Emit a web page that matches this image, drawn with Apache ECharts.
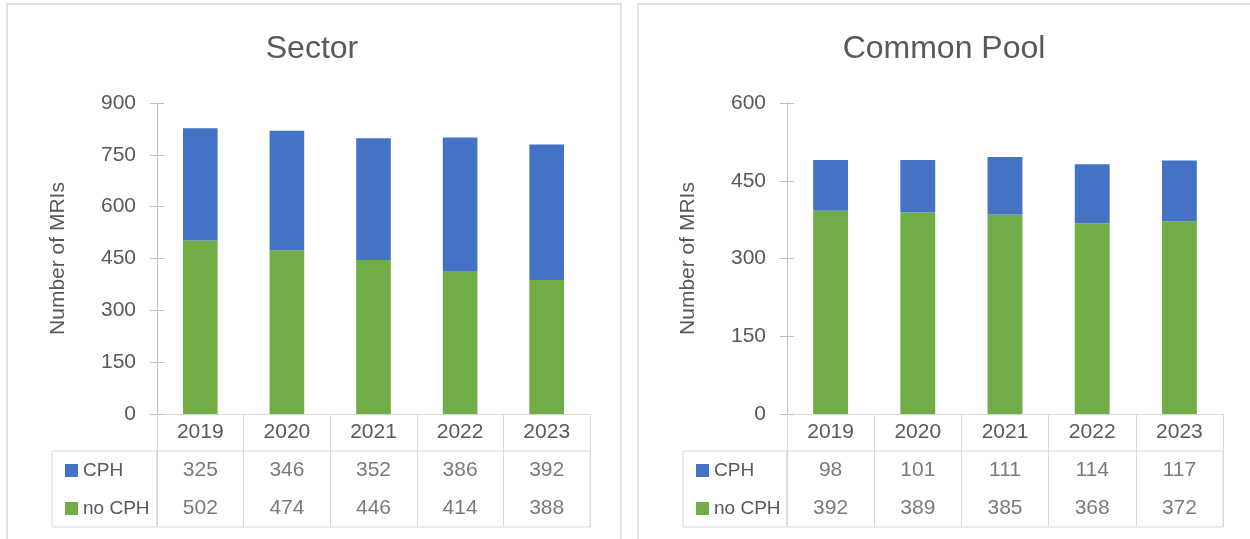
<!DOCTYPE html>
<html>
<head>
<meta charset="utf-8">
<script src="https://cdn.jsdelivr.net/npm/echarts@6/dist/echarts.min.js"></script>
<style>
  html, body { margin: 0; padding: 0; background: #fff; }
  #chart { width: 1250px; height: 539px; }
</style>
</head>
<body>
<div id="chart"></div>
<script>
// data
const years = ['2019', '2020', '2021', '2022', '2023'];
const rowNames = ['CPH', 'no CPH'];
const sectorCph = [325, 346, 352, 386, 392];
const sectorNoCph = [502, 474, 446, 414, 388];
const poolCph = [98, 101, 111, 114, 117];
const poolNoCph = [392, 389, 385, 368, 372];

const FONT = 'Liberation Sans, Arial, sans-serif';
const TEXT = '#595959';
const LINE = '#d9d9d9';
const BLUE = '#4472C4';
const GREEN = '#70AD47';

const chart = echarts.init(document.getElementById('chart'));

// one panel: chart grid, table grid, legend-column grid
const panels = [
  { title: 'Sector', cph: sectorCph, noCph: sectorNoCph, max: 900,
    left: 157, width: 433, keyLeft: 52, titleX: 307 },
  { title: 'Common Pool', cph: poolCph, noCph: poolNoCph, max: 600,
    left: 787, width: 436, keyLeft: 683, titleX: 939 }
];

const grid = [], xAxis = [], yAxis = [], series = [], title = [], legend = [];

panels.forEach((p, k) => {
  const g = k * 3;
  grid.push(
    { left: p.left, top: 103, width: p.width, height: 311 },
    { left: p.left, top: 451, width: p.width, height: 76, show: true,
      borderColor: LINE, borderWidth: 1, backgroundColor: 'transparent' },
    { left: p.keyLeft, top: 451, width: p.left - p.keyLeft, height: 76, show: true,
      borderColor: LINE, borderWidth: 1, backgroundColor: 'transparent' }
  );

  xAxis.push(
    { gridIndex: g, type: 'category', data: years,
      axisLine: { lineStyle: { color: LINE, width: 1 } },
      axisTick: { show: true, length: 37, interval: 0, lineStyle: { color: LINE } },
      axisLabel: { color: TEXT, fontSize: 21, fontFamily: FONT, margin: 8, interval: 0 } },
    { gridIndex: g + 1, type: 'category', data: years,
      axisLine: { show: false }, axisTick: { show: false }, axisLabel: { show: false },
      splitLine: { show: true, interval: 0, lineStyle: { color: LINE } } },
    { gridIndex: g + 2, type: 'value', show: false }
  );

  yAxis.push(
    { gridIndex: g, type: 'value', min: 0, max: p.max, interval: 150, position: 'left',
      name: 'Number of MRIs', nameLocation: 'middle', nameGap: 88,
      nameTextStyle: { color: TEXT, fontSize: 21, fontFamily: FONT },
      axisLine: { show: true, lineStyle: { color: '#bfbfbf' } },
      axisTick: { show: true, length: 7, lineStyle: { color: '#bfbfbf' } },
      axisLabel: { color: TEXT, fontSize: 21, fontFamily: FONT, margin: 21 },
      splitLine: { show: false } },
    { gridIndex: g + 1, type: 'category', data: rowNames, inverse: true, show: false },
    { gridIndex: g + 2, type: 'value', show: false }
  );

  title.push({
    text: p.title, left: p.titleX, top: 28, textAlign: 'center',
    textStyle: { color: TEXT, fontSize: 32, fontWeight: 'normal', fontFamily: FONT }
  });

  legend.push({
    data: ['CPH', 'no CPH'], orient: 'vertical', left: p.keyLeft + 8, top: 456,
    itemWidth: 13, itemHeight: 13, itemGap: 19, icon: 'rect', selectedMode: false,
    textStyle: { color: TEXT, fontSize: 19, fontFamily: FONT }
  });

  series.push(
    { name: 'no CPH', type: 'bar', stack: 'p' + k, xAxisIndex: g, yAxisIndex: g,
      barWidth: '40%', data: p.noCph, itemStyle: { color: GREEN } },
    { name: 'CPH', type: 'bar', stack: 'p' + k, xAxisIndex: g, yAxisIndex: g,
      barWidth: '40%', data: p.cph, itemStyle: { color: BLUE } }
  );

  // data table cells
  [p.cph, p.noCph].forEach((vals, r) => {
    series.push({
      name: 'table' + k + r, type: 'scatter', xAxisIndex: g + 1, yAxisIndex: g + 1,
      symbolSize: 1, silent: true, itemStyle: { color: 'transparent' },
      data: vals.map((v, i) => [years[i], rowNames[r], v]),
      label: { show: true, position: 'inside', formatter: d => d.value[2],
        color: TEXT, fontSize: 21, fontFamily: FONT }
    });
  });
});

// second y axes for the crossing tick marks
panels.forEach((p, k) => {
  yAxis.push({ gridIndex: k * 3, type: 'value', min: 0, max: p.max, interval: 150, position: 'left',
    axisLine: { show: true, lineStyle: { color: '#bfbfbf' } },
    axisTick: { show: true, inside: true, length: 7, lineStyle: { color: '#bfbfbf' } },
    axisLabel: { show: false }, splitLine: { show: false } });
});

chart.setOption({
  animation: false,
  backgroundColor: '#fff',
  title, legend, grid, xAxis, yAxis, series,
  graphic: [
    { type: 'rect', shape: { x: 7, y: 4, width: 614, height: 620 },
      style: { fill: 'none', stroke: LINE, lineWidth: 1.5 }, silent: true },
    { type: 'rect', shape: { x: 638, y: 4, width: 700, height: 620 },
      style: { fill: 'none', stroke: LINE, lineWidth: 1.5 }, silent: true }
  ]
});
</script>
</body>
</html>
